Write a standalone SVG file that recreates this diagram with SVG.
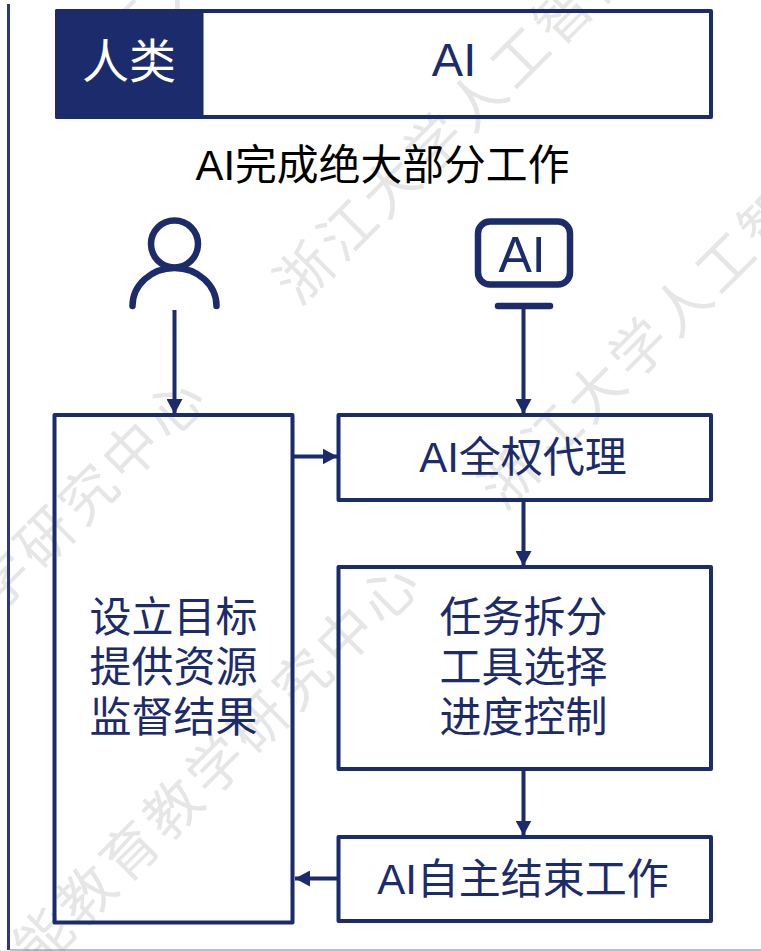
<svg xmlns="http://www.w3.org/2000/svg" width="761" height="951" viewBox="0 0 761 951">
<style>
text{font-family:"Liberation Sans","Noto Sans CJK SC",sans-serif;font-size:42px;fill:#1b2b6b;text-anchor:middle}
.box{fill:none;stroke:#1b2b6b;stroke-width:4;stroke-linejoin:round}
.icon{fill:none;stroke:#1b2b6b;stroke-width:6.500;stroke-linecap:round}
.link{fill:none;stroke:#1b2b6b;stroke-width:4;marker-end:url(#arrow)}
.wm{font-size:56px;letter-spacing:5px;fill:#e6e6e6;text-anchor:start}
</style>
<defs>
<marker id="arrow" markerUnits="userSpaceOnUse" markerWidth="15" markerHeight="16" refX="15" refY="8" orient="auto"><path d="M0 0L15 8L0 16Z" fill="#1b2b6b"/></marker>
</defs>
<rect width="761" height="951" fill="#fff"/>
<g id="watermark">
<text class="wm" transform="translate(84,107) rotate(-45)">浙江大学人工智能教育教学研究中心</text>
<text class="wm" transform="translate(-693,889) rotate(-45)">浙江大学人工智能教育教学研究中心</text>
<text class="wm" transform="translate(299,307) rotate(-45)">浙江大学人工智能教育教学研究中心</text>
<text class="wm" transform="translate(-478,1089) rotate(-45)">浙江大学人工智能教育教学研究中心</text>
<text class="wm" transform="translate(504,512) rotate(-45)">浙江大学人工智能教育教学研究中心</text>
<text class="wm" transform="translate(-264,1274) rotate(-45)">浙江大学人工智能教育教学研究中心</text>
</g>
<g id="frame"><path d="M8.500 4V950" fill="none" stroke="#2a3a7c" stroke-width="3"/><path d="M10 950H761" fill="none" stroke="#6b78a8" stroke-width="1"/></g>
<g id="ratio-bar">
<rect class="box" x="57" y="11" width="654" height="106"/>
<rect x="55" y="9" width="148.500" height="110" fill="#1b2b6b" rx="2"/>
<text x="129" y="78" style="font-size:47px;fill:#fff">人类</text>
<text x="454" y="76" style="font-size:47px">AI</text>
</g>
<g id="title"><text x="382.500" y="180" style="font-size:41.800px;fill:#000">AI完成绝大部分工作</text></g>
<g id="human-icon">
<circle class="icon" cx="174.500" cy="244" r="23.500"/>
<path class="icon" d="M132.500 306A42 38 0 0 1 216.500 306"/>
</g>
<g id="ai-icon">
<rect class="icon" x="478" y="221.500" width="92" height="63" rx="12"/>
<path class="icon" d="M498 306H550"/>
<text x="522" y="272" style="font-size:50px">AI</text>
</g>
<g id="connectors">
<path class="link" d="M174.500 310V414"/>
<path class="link" d="M523.500 306V414"/>
<path class="link" d="M294 456.500H337.500"/>
<path class="link" d="M523.500 501V566"/>
<path class="link" d="M523.500 770V835.500"/>
<path class="link" d="M337 878.500H295"/>
</g>
<g id="human-box">
<rect class="box" x="54.500" y="415" width="238" height="507.500"/>
<text x="173.500" y="632">设立目标</text>
<text x="173.500" y="682">提供资源</text>
<text x="173.500" y="732">监督结果</text>
</g>
<g id="delegate"><rect class="box" x="338.500" y="415" width="372.500" height="85"/><text x="523" y="472">AI全权代理</text></g>
<g id="tasks">
<rect class="box" x="338.500" y="567" width="372.500" height="202"/>
<text x="523.500" y="632">任务拆分</text>
<text x="523.500" y="682">工具选择</text>
<text x="523.500" y="732">进度控制</text>
</g>
<g id="finish"><rect class="box" x="338.500" y="837" width="372.500" height="84"/><text x="523" y="894">AI自主结束工作</text></g>
</svg>
